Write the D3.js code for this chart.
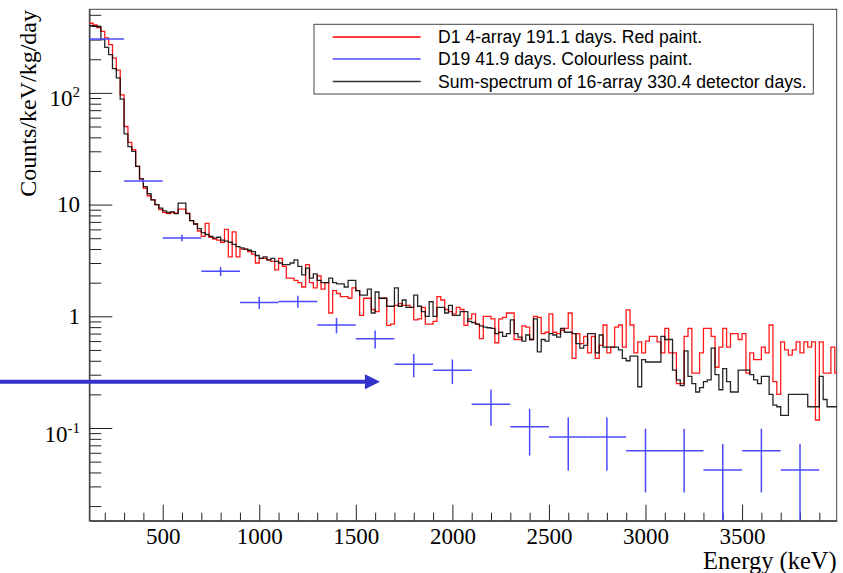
<!DOCTYPE html>
<html><head><meta charset="utf-8">
<script src="https://cdn.jsdelivr.net/npm/d3@7"></script>
<style>body{margin:0;background:#fff}svg{display:block}</style>
</head><body>
<script>
// ---------------- data ----------------
const binStart = 120;   // keV, lower edge of first histogram bin
const binWidth = 20;    // keV
// Sum-spectrum of 16-array (black)
const sumSpectrum = [
 400,395,390,300,255,220,165,136,88,43,
 33,30,22,17,14.5,12.5,11,10,9.3,8.8,
 8.5,8.6,8.3,10.3,10.3,8.3,7.2,6.7,6.1,5.6,
 5.4,5.2,5.0,5.1,4.8,4.7,4.6,4.4,4.2,4.1,
 4.0,3.9,3.8,3.5,3.3,3.4,3.2,3.3,3.1,3.0,
 2.9,2.9,3.0,3.2,2.8,2.35,2.7,2.2,2.4,2.1,
 2.0,2.0,2.2,2.0,1.95,1.95,1.83,2.1,2.1,1.7,
 1.55,1.55,1.75,1.07,1.65,1.45,1.45,1.23,1.23,1.8,
 1.23,1.4,1.2,1.2,1.55,1.23,1.1,1.0,1.35,1.0,
 1.2,1.2,1.07,1.25,1.02,1.02,1.1,1.1,0.9,0.88,
 0.85,0.82,0.8,0.79,0.78,0.7,0.72,0.66,0.7,0.93,
 0.7,0.65,0.6,0.68,0.62,0.95,0.48,0.62,0.6,0.7,
 0.68,0.65,0.78,0.72,0.72,0.7,0.57,0.52,0.55,0.7,
 0.7,0.47,0.68,0.53,0.53,0.53,0.53,0.5,0.42,0.4,
 0.44,0.44,0.234,0.41,0.39,0.39,0.39,0.39,0.66,0.62,
 0.62,0.33,0.27,0.24,0.49,0.29,0.25,0.21,0.23,0.26,
 0.27,0.52,0.3,0.22,0.34,0.26,0.21,0.21,0.33,0.33,
 0.33,0.3,0.27,0.25,0.29,0.29,0.2,0.16,0.155,0.13,
 0.13,0.2,0.2,0.2,0.2,0.2,0.155,0.155,0.155,0.29,
 0.18,0.155,0.155,0.155
];
// D1 4-array, red paint (red)
const d1Spectrum = [
 420,405,385,355,310,270,205,160,96,50,
 36,31,22,17,14,12,11,10,9.0,8.5,
 8.3,8.5,8.4,9.1,9.1,8.4,7.2,6.7,5.8,5.2,
 6.8,5.1,4.9,4.8,4.6,6.0,3.4,5.7,3.4,4.0,
 4.0,3.8,3.6,3.0,3.3,3.3,3.2,3.1,2.6,3.3,
 2.8,2.2,2.2,2.1,2.0,1.83,2.9,2.0,1.8,2.3,
 1.75,2.0,1.07,1.7,1.6,1.5,1.5,1.45,1.8,1.7,
 1.02,1.45,1.45,1.15,1.1,1.45,1.45,0.83,0.85,1.25,
 1.3,1.25,1.25,1.2,0.93,0.95,1.2,0.85,0.85,0.9,
 1.5,1.4,1.15,1.1,1.05,1.2,1.15,0.83,0.95,1.05,
 0.85,0.63,1.0,1.0,0.95,0.58,0.95,0.98,1.07,1.07,
 0.62,0.62,0.82,0.8,0.62,1.0,0.98,0.7,0.72,1.05,
 0.72,0.7,0.75,0.78,1.07,0.42,0.7,0.57,0.66,0.47,
 0.66,0.42,0.55,0.836,0.47,0.53,0.8,0.836,0.53,1.14,
 0.836,0.47,0.59,0.47,0.6,0.66,0.66,0.59,0.47,0.78,
 0.47,0.47,0.25,0.25,0.66,0.78,0.31,0.31,0.47,0.78,
 0.78,0.66,0.35,0.53,0.78,0.53,0.7,0.7,0.62,0.7,
 0.31,0.47,0.41,0.41,0.53,0.47,0.836,0.26,0.2,0.59,
 0.5,0.45,0.5,0.59,0.47,0.59,0.53,0.59,0.118,0.59,
 0.31,0.31,0.53,0.31
];
// D19 colourless paint (blue points with errors)
const d19Energy = [200,400,600,800,1000,1200,1400,1600,1800,2000,2200,2400,2600,2800,3000,3200,3400,3600,3800];
const d19Value  = [304,16.3,5.03,2.53,1.33,1.36,0.836,0.63,0.372,0.329,0.163,0.1027,0.083,0.083,0.0625,0.0625,0.042,0.0625,0.042];
const d19Error  = [2.5,0.57,0.33,0.23,0.168,0.17,0.132,0.115,0.088,0.082,0.058,0.046,0.0415,0.0415,0.036,0.036,0.030,0.036,0.030];
const d19HalfWidth = 100;
const xMajorTicks = [500,1000,1500,2000,2500,3000,3500];
const yDecadeExps = [-1,0,1,2];
const legendLabels = ["D1 4-array 191.1 days. Red paint.","D19 41.9 days. Colourless paint.","Sum-spectrum of 16-array 330.4 detector days."];
const legendColors = ["#ff0000","#4a4aff","#333333"];
const arrowTip = {energy: 1625, value: 0.26};

// ---------------- chart ----------------
const W = 843, H = 573;
const L = 89.3, R = 836.7, T = 9.3, B = 520.7;
const svg = d3.select("body").append("svg").attr("width", W).attr("height", H);
const x = d3.scaleLinear().domain([120, 3990]).range([L, R]);
const y = d3.scaleLog().domain([0.0148, 560]).range([B, T]);

svg.append("defs").append("clipPath").attr("id", "plot")
  .append("rect").attr("x", L).attr("y", T).attr("width", R - L).attr("height", B - T);

// frame
svg.append("rect").attr("x", L).attr("y", T).attr("width", R - L).attr("height", B - T)
  .attr("fill", "none").attr("stroke", "#444").attr("stroke-width", 1);

// x axis
const xMinor = d3.range(200, 4000, 100).filter(v => !xMajorTicks.includes(v));
const gxMinor = svg.append("g").attr("transform", `translate(0,${B})`)
  .call(d3.axisBottom(x).tickValues(xMinor).tickSizeInner(-8).tickSizeOuter(0).tickFormat(""));
const gx = svg.append("g").attr("transform", `translate(0,${B})`)
  .call(d3.axisBottom(x).tickValues(xMajorTicks).tickSizeInner(-16).tickSizeOuter(0).tickPadding(7).tickFormat(d3.format("d")));
[gx, gxMinor].forEach(g => { g.select(".domain").attr("stroke", "#444"); g.selectAll(".tick line").attr("stroke", "#222"); });
gx.selectAll(".tick text").attr("font-family", "Liberation Serif, Times New Roman, serif").attr("font-size", 23).attr("fill", "#000");

// y axis
const yMinor = [];
[-2,-1,0,1,2].forEach(e => { for (let m = 2; m <= 9; m++) { const v = m * Math.pow(10, e); if (v > 0.0148 && v < 560) yMinor.push(v); } });
const yMajor = yDecadeExps.map(e => Math.pow(10, e));
const gyMinor = svg.append("g").attr("transform", `translate(${L},0)`)
  .call(d3.axisLeft(y).tickValues(yMinor).tickSizeInner(-12).tickSizeOuter(0).tickFormat(""));
const gy = svg.append("g").attr("transform", `translate(${L},0)`)
  .call(d3.axisLeft(y).tickValues(yMajor).tickSizeInner(-23).tickSizeOuter(0).tickFormat(""));
[gy, gyMinor].forEach(g => { g.select(".domain").attr("stroke", "#444"); g.selectAll(".tick line").attr("stroke", "#222"); });

const serif = "Liberation Serif, Times New Roman, serif";
yDecadeExps.forEach(e => {
  const yy = y(Math.pow(10, e));
  const t = svg.append("text").attr("x", 80).attr("font-family", serif).attr("font-size", 23)
    .attr("text-anchor", "end").attr("fill", "#000");
  if (e === 0 || e === 1) {
    t.attr("y", yy + 7.8).text(e === 0 ? "1" : "10");
  } else {
    t.attr("y", yy + 13.5);
    t.append("tspan").text("10");
    t.append("tspan").attr("font-size", 15).attr("dy", -9).text(String(e));
  }
});

// axis titles
svg.append("text").attr("x", R).attr("y", 569).attr("text-anchor", "end")
  .attr("font-family", serif).attr("font-size", 24.5).attr("fill", "#000").text("Energy (keV)");
svg.append("text").attr("transform", `translate(36,10) rotate(-90)`).attr("text-anchor", "end")
  .attr("font-family", serif).attr("font-size", 24).attr("fill", "#000").text("Counts/keV/kg/day");

// histograms
const plot = svg.append("g").attr("clip-path", "url(#plot)");
function histPoints(vals) {
  const pts = vals.map((v, i) => [binStart + i * binWidth, v]);
  pts.push([binStart + vals.length * binWidth, vals[vals.length - 1]]);
  return pts;
}
const stepLine = d3.line().x(d => x(d[0])).y(d => y(d[1])).curve(d3.curveStepAfter);
plot.append("path").attr("d", stepLine(histPoints(d1Spectrum)))
  .attr("fill", "none").attr("stroke", "#ff0000").attr("stroke-width", 1.3).attr("stroke-opacity", 0.9);
plot.append("path").attr("d", stepLine(histPoints(sumSpectrum)))
  .attr("fill", "none").attr("stroke", "#000").attr("stroke-width", 1.3).attr("stroke-opacity", 0.85);

// D19 crosses
const blue = "#4a4aff";
const eb = plot.append("g").attr("stroke", blue).attr("stroke-width", 1.5);
d19Energy.forEach((E, i) => {
  const v = d19Value[i], err = d19Error[i];
  eb.append("line").attr("x1", x(E - d19HalfWidth)).attr("x2", x(E + d19HalfWidth))
    .attr("y1", y(v)).attr("y2", y(v));
  const lo = v - err > 0.0148 ? y(v - err) : B;
  eb.append("line").attr("x1", x(E)).attr("x2", x(E)).attr("y1", y(v + err)).attr("y2", lo);
});

// annotation arrow
const ay = y(arrowTip.value), ax = x(arrowTip.energy);
svg.append("line").attr("x1", 0).attr("x2", ax - 12).attr("y1", ay).attr("y2", ay)
  .attr("stroke", "#3333cc").attr("stroke-width", 4);
svg.append("path").attr("d", `M${ax - 15},${ay - 7.5} L${ax},${ay} L${ax - 15},${ay + 7.5} Z`).attr("fill", "#3333cc");

// legend
const lg = svg.append("g");
lg.append("rect").attr("x", 314).attr("y", 24.3).attr("width", 813.3 - 314).attr("height", 94 - 24.3)
  .attr("fill", "#fff").attr("stroke", "#444").attr("stroke-width", 1);
const rowY = [37, 59, 81.5];
legendLabels.forEach((lab, i) => {
  lg.append("line").attr("x1", 332.7).attr("x2", 420.7).attr("y1", rowY[i]).attr("y2", rowY[i])
    .attr("stroke", legendColors[i]).attr("stroke-width", 1.3);
  lg.append("text").attr("x", 438).attr("y", rowY[i] + 6).attr("font-family", "Liberation Sans, Arial, sans-serif")
    .attr("font-size", 17.6).attr("fill", "#000").text(lab);
});
</script>
</body></html>
